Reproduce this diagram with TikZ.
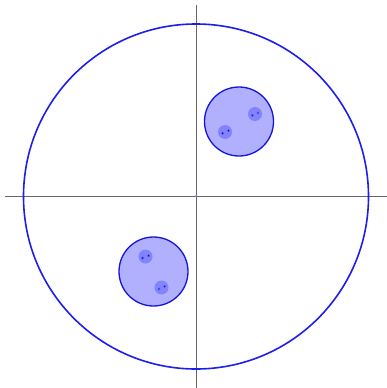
\documentclass[tikz,border=0pt]{standalone}
\begin{document}
\begin{tikzpicture}[x=1pt,y=-1pt,
  axis/.style={draw=black!60,line width=0.8pt},
  bigc/.style={draw={rgb,255:red,30;green,30;blue,235},line width=1.6pt},
  midc/.style={draw={rgb,255:red,20;green,20;blue,220},line width=1.3pt,fill={rgb,255:red,176;green,176;blue,255}},
  smallc/.style={fill=blue,fill opacity=0.25},
  dotc/.style={fill={rgb,255:red,0;green,0;blue,140},draw=blue!60,line width=0.3pt}]
\useasboundingbox (0,0) rectangle (387,388);
\draw[axis] (5,196) -- (387,196);
\draw[axis] (196,5) -- (196,388);
\draw[bigc] (196,196.5) circle (172.5);
\fill[blue!50,opacity=0.6] (196,196) circle (1.5);
% upper right cluster
\draw[midc] (239,121.5) circle (34.5);
\fill[smallc] (225,132) circle (7);
\fill[smallc] (255,114) circle (7);
\filldraw[dotc] (222.6,133.3) circle (1.2) (228.4,130.7) circle (1.2);
\filldraw[dotc] (252.3,115.3) circle (1.2) (258,113) circle (1.2);
% lower left cluster
\draw[midc] (153.5,271.5) circle (34.5);
\fill[smallc] (145.5,256.5) circle (7);
\fill[smallc] (161.5,287.5) circle (7);
\filldraw[dotc] (142.6,258) circle (1.2) (148.6,255.7) circle (1.2);
\filldraw[dotc] (159,289) circle (1.2) (164.7,286.3) circle (1.2);
\end{tikzpicture}
\end{document}
